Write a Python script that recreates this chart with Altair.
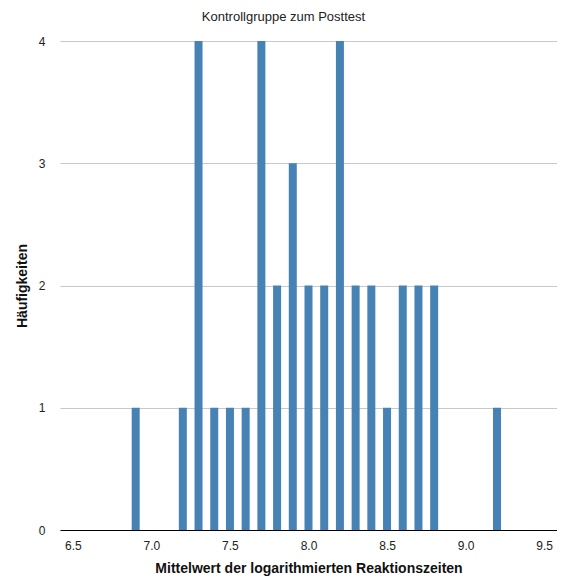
import altair as alt
import pandas as pd

werte = [6.9, 7.2, 7.3, 7.4, 7.5, 7.6, 7.7, 7.8, 7.9, 8.0, 8.1, 8.2, 8.3, 8.4, 8.5, 8.6, 8.7, 8.8, 9.2]
haeufigkeiten = [1, 1, 4, 1, 1, 1, 4, 2, 3, 2, 2, 4, 2, 2, 1, 2, 2, 2, 1]
x_ticks = [6.5, 7.0, 7.5, 8.0, 8.5, 9.0, 9.5]
y_ticks = [0, 1, 2, 3, 4]

df = pd.DataFrame({"x": werte, "n": haeufigkeiten})

FONT = "Liberation Sans"

chart = alt.Chart(df).mark_bar(color="#4682B4", size=8).encode(
    x=alt.X("x:Q",
            scale=alt.Scale(domain=[6.45, 9.55], nice=False, zero=False),
            axis=alt.Axis(values=x_ticks, format=".1f", grid=False, ticks=False,
                          domainColor="#000000", domainWidth=1.2,
                          labelFont=FONT, labelFontSize=12, labelColor="#222",
                          labelPadding=10,
                          title="Mittelwert der logarithmierten Reaktionszeiten",
                          titleFont=FONT, titleFontSize=14, titleFontWeight="bold",
                          titleColor="#111", titlePadding=10)),
    y=alt.Y("n:Q",
            scale=alt.Scale(domain=[0, 4], nice=False),
            axis=alt.Axis(values=y_ticks, format="d", grid=True, gridColor="#c8c8c8",
                          domain=False, ticks=False,
                          labelFont=FONT, labelFontSize=12, labelColor="#222",
                          labelPadding=15,
                          title="Häufigkeiten",
                          titleFont=FONT, titleFontSize=14, titleFontWeight="bold",
                          titleColor="#111", titlePadding=9)),
).properties(
    width=497,
    height=489,
    title=alt.TitleParams("Kontrollgruppe zum Posttest", font=FONT, fontSize=13,
                          fontWeight="normal", color="#222", anchor="middle",
                          dx=-25, offset=11),
    autosize=alt.AutoSizeParams(type="none"),
    padding={"left": 52, "top": 33, "right": 0, "bottom": 46},
).configure_view(stroke=None)

chart.save("out.html", embed_options={"renderer": "svg", "actions": False})
